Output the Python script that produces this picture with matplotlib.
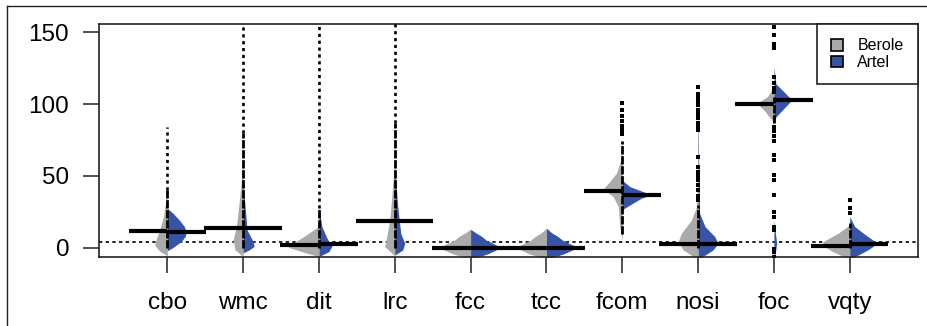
import numpy as np
import matplotlib
matplotlib.use('Agg')
import matplotlib.pyplot as plt
from matplotlib.patches import Patch
from matplotlib.lines import Line2D

plt.rcParams['font.family'] = ['Liberation Sans', 'DejaVu Sans']

metrics = ['cbo', 'wmc', 'dit', 'lrc', 'fcc', 'tcc', 'fcom', 'nosi', 'foc', 'vqty']
groups = ['Berole', 'Artel']

# density outline of each half bean: values and half widths
gray_y = [
    [-5.5, -2, 2, 6, 10, 15, 21, 30, 42],
    [-6, -1.4, 5.5, 14.8, 31, 45, 63],
    [-6, -3, 0.5, 4, 8, 15],
    [-5.5, 1, 7.9, 19.4, 33, 61],
    [-8, -4, 0, 1.5, 3.2, 5.5, 7.9, 10.5, 13],
    [-8, -4, 0, 1.5, 3.2, 5.5, 7.9, 10.5, 13.7],
    [5, 15, 28.7, 35.6, 41, 45, 52, 61, 75],
    [-8, -1.4, 4.4, 10.2, 19.4, 28.7, 60, 119],
    [-6, -2, 2, 85.4, 88.9, 95.8, 100.5, 105, 112],
    [-8, -2.5, 2, 4.4, 10.2, 16],
]
gray_w = [
    [0, .105, .165, .145, .118, .086, .053, .026, 0],
    [0, .105, .132, .088, .053, .026, 0],
    [0, .197, .408, .316, .197, 0],
    [0, .132, .105, .066, .043, 0],
    [0, .237, .408, .37, .303, .21, .154, .07, 0],
    [0, .23, .39, .355, .295, .205, .15, .068, 0],
    [0, .033, .053, .118, .25, .184, .075, .02, 0],
    [0, .197, .263, .22, .088, .02, .007, 0],
    [.007, .026, 0, 0, .026, .132, .224, .088, 0],
    [0, .224, .368, .351, .154, 0],
]
blue_y = [
    [-2, 0, 4.4, 8, 11.3, 15, 19.4, 24, 27.5],
    [-3.5, -1.4, 1, 4.4, 12.5, 28.7, 47],
    [-6, -2.5, 0, 1, 6.9, 14.8, 28.7],
    [-5, -1.4, 3.2, 10.2, 28.7, 56.5],
    [-8, -4, 0, 1.5, 3.2, 5.5, 7.9, 10.5, 13],
    [-8, -4, 0, 1.5, 3.2, 5.5, 7.9, 10.5, 13.7],
    [26, 27.5, 30, 34.5, 36.8, 39.1, 42.6, 47],
    [-8, -1.4, 3.2, 7.9, 14.8, 24, 60, 110],
    [-6, -1, 3.5, 10, 19.4, 87.7, 91, 97, 102.8, 108.5, 114, 126],
    [-8, -1.4, 3.2, 9, 14.8, 21.8],
]
blue_w = [
    [0, .066, .184, .237, .25, .224, .158, .079, 0],
    [0, .079, .145, .132, .053, .026, 0],
    [0, .132, .158, .171, .105, .039, 0],
    [0, .105, .132, .079, .039, 0],
    [0, .23, .395, .36, .295, .205, .15, .068, 0],
    [0, .235, .40, .365, .30, .21, .152, .07, 0],
    [0, .026, .105, .25, .382, .276, .101, 0],
    [0, .197, .263, .22, .092, .02, .007, 0],
    [.007, .026, .036, .02, 0, 0, .026, .132, .237, .132, .026, 0],
    [0, .237, .368, .21, .066, 0],
]

# bean lines (group averages)
gray_mean = [12.0, 13.9, 1.8, 19.0, 0, 0, 39.6, 3.0, 99.8, 1.6]
blue_mean = [10.9, 13.9, 2.8, 19.0, 0, 0, 36.8, 3.0, 102.8, 3.0]
overall_mean = 4.0

# observations: dense run, sparse run above it, single points
dense_lo = [0, 0, 0, 0, None, None, 10, 0, 87, 0]
dense_hi = [40, 80, 28, 87, None, None, 74, 30, 105, 17]
sparse_hi = [84, 160, 160, 160, None, None, None, None, None, None]
single_pts = [
    [], [], [], [], [], [],
    [79, 82, 85, 88, 92, 96, 100.5],
    [33, 36, 40, 44, 47, 50, 53, 56, 63, 82, 85, 87, 90, 93, 96, 99, 102, 105, 107, 112],
    [-6, -3, -1, 12.5, 14.8, 21.7, 25, 36.8, 47, 50.7, 61, 64.6, 74, 78, 81, 84,
     108.6, 111, 114.6, 119, 138.7, 142, 148, 153.7],
    [24, 27.5, 33.3],
]

gray_col = '#aaaaaa'
blue_col = '#3653a6'

fig = plt.figure(figsize=(9.28, 3.26), dpi=100)
ax = fig.add_axes([99 / 928, 69 / 326, 819 / 928, 233 / 326])

pos = np.arange(1, len(metrics) + 1)
ax.axhline(overall_mean, color='black', lw=1.2, ls=(0, (2, 2)), zorder=1)

for i, p in enumerate(pos):
    gy = np.array(gray_y[i])
    gw = np.array(gray_w[i])
    by = np.array(blue_y[i])
    bw = np.array(blue_w[i])
    ax.fill_betweenx(gy, p - gw, p, color=gray_col, lw=0, zorder=2)
    ax.fill_betweenx(by, p, p + bw, color=blue_col, lw=0, zorder=2)
    if dense_lo[i] is not None:
        ax.plot([p, p], [dense_lo[i], dense_hi[i]], color='black', lw=2.0,
                ls=(0, (3, 0.6)), zorder=3)
        if sparse_hi[i] is not None:
            ax.plot([p, p], [dense_hi[i], sparse_hi[i]], color='black', lw=1.9,
                    ls=(0, (1.2, 1.4)), zorder=3)
    if single_pts[i]:
        ax.plot([p] * len(single_pts[i]), single_pts[i], 's', color='black',
                ms=2.5, mew=0, zorder=3)
    ax.plot([p - 0.51, p], [gray_mean[i]] * 2, color='black', lw=3,
            solid_capstyle='butt', zorder=4)
    ax.plot([p, p + 0.51], [blue_mean[i]] * 2, color='black', lw=3,
            solid_capstyle='butt', zorder=4)

ax.set_xlim(0.1, 10.9)
ax.set_ylim(-6.3, 155.6)
ax.set_xticks(pos)
ax.set_xticklabels(metrics)
ax.set_yticks([0, 50, 100, 150])
ax.tick_params(axis='both', labelsize=17.5, length=11.5, width=1.1, color='#222222')
ax.tick_params(axis='x', pad=14)
ax.tick_params(axis='y', pad=10)
for s in ax.spines.values():
    s.set_linewidth(1.2)
    s.set_color('#222222')

handles = [Patch(facecolor=gray_col, edgecolor='black', lw=1.2),
           Patch(facecolor=blue_col, edgecolor='black', lw=1.2)]
leg = ax.legend(handles, groups, loc='upper right', borderaxespad=0, fontsize=11.5,
                fancybox=False, framealpha=1, edgecolor='#222222',
                handlelength=0.75, handleheight=0.75, handletextpad=0.9,
                labelspacing=0.1, borderpad=0.9)
leg.get_frame().set_linewidth(1.2)

# outer frame of the figure
fig.add_artist(Line2D([7 / 928, 1], [1 - 6 / 326, 1 - 6 / 326], color='#222222', lw=1))
fig.add_artist(Line2D([7 / 928, 7 / 928], [0, 1 - 6 / 326], color='#222222', lw=1))

fig.savefig('out.png', dpi=100)
